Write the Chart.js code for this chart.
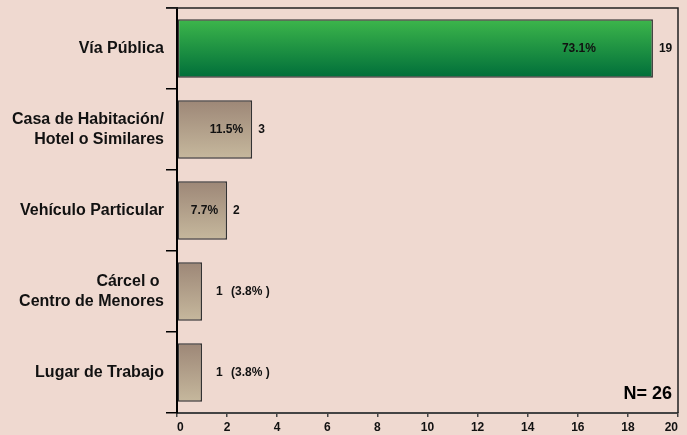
<!DOCTYPE html>
<html>
<head>
<meta charset="utf-8">
<script src="https://cdn.jsdelivr.net/npm/chart.js@4/dist/chart.umd.min.js"></script>
<style>
  html, body { margin: 0; padding: 0; background: #efd9d0; }
  #wrap { width: 687px; height: 435px; }
</style>
</head>
<body>
<div id="wrap"><canvas id="lugarChart"></canvas></div>
<script>
// datos
const categorias = [
  'Vía Pública',
  ['Casa de Habitación/', 'Hotel o Similares'],
  'Vehículo Particular',
  ['Cárcel o ', 'Centro de Menores'],
  'Lugar de Trabajo'
];
const casos = [19, 3, 2, 1, 1];
const porcentajes = ['73.1%', '11.5%', '7.7%', '3.8%', '3.8%'];
const ticksX = [0, 2, 4, 6, 8, 10, 12, 14, 16, 18, 20];
const totalN = 26;

const FONT = 'Arial, "Liberation Sans", sans-serif';
const BAR_PCT = 0.72;

function degradado(context) {
  const chart = context.chart;
  const area = chart.chartArea;
  if (!area) return '#a89080';
  const y = chart.scales.y;
  const centro = y.getPixelForValue(context.dataIndex);
  const mitad = (area.bottom - area.top) / categorias.length * BAR_PCT / 2;
  const g = chart.ctx.createLinearGradient(0, centro - mitad, 0, centro + mitad);
  if (context.dataIndex === 0) {
    g.addColorStop(0, '#3db64b');
    g.addColorStop(1, '#006e3a');
  } else {
    g.addColorStop(0, '#9d8777');
    g.addColorStop(1, '#c6b89d');
  }
  return g;
}

// etiquetas de valor, marco superior/derecho y N
const etiquetas = {
  id: 'etiquetas',
  afterDatasetsDraw(chart) {
    const ctx = chart.ctx;
    const area = chart.chartArea;
    const meta = chart.getDatasetMeta(0);
    ctx.save();
    ctx.fillStyle = '#111';
    ctx.font = 'bold 12px ' + FONT;
    ctx.textBaseline = 'middle';
    meta.data.forEach((bar, i) => {
      const ancho = bar.x - bar.base;
      if (casos[i] > 1) {
        ctx.textAlign = 'right';
        const dentro = ancho > 200 ? 57 : 9;
        ctx.fillText(porcentajes[i], bar.x - dentro, bar.y);
        ctx.textAlign = 'left';
        ctx.fillText(String(casos[i]), bar.x + 6, bar.y);
      } else {
        ctx.textAlign = 'left';
        ctx.fillText(String(casos[i]), bar.x + 14, bar.y);
        ctx.fillText('(' + porcentajes[i] + ' )', bar.x + 29, bar.y);
      }
    });
    // marco
    ctx.strokeStyle = '#222';
    ctx.lineWidth = 1.5;
    ctx.beginPath();
    ctx.moveTo(area.left - 11, area.top);
    ctx.lineTo(area.right, area.top);
    ctx.lineTo(area.right, area.bottom);
    ctx.stroke();
    // N
    ctx.font = 'bold 18px ' + FONT;
    ctx.textAlign = 'right';
    ctx.fillStyle = '#000';
    ctx.fillText('N= ' + totalN, area.right - 6, area.bottom - 19);
    ctx.restore();
  }
};

new Chart(document.getElementById('lugarChart'), {
  type: 'bar',
  data: {
    labels: categorias,
    datasets: [{
      data: casos,
      backgroundColor: degradado,
      borderColor: '#333',
      borderWidth: 1.5,
      borderSkipped: false,
      categoryPercentage: 1,
      barPercentage: BAR_PCT
    }]
  },
  options: {
    indexAxis: 'y',
    responsive: true,
    maintainAspectRatio: false,
    animation: false,
    layout: { padding: { top: 8, right: 9, left: 0, bottom: 0 } },
    plugins: {
      legend: { display: false },
      tooltip: { enabled: false }
    },
    scales: {
      x: {
        min: 0,
        max: 20,
        afterBuildTicks(scale) {
          scale.ticks = ticksX.map(v => ({ value: v }));
        },
        afterFit(scale) {
          scale.height = 22;
          scale.paddingLeft = 0;
          scale.paddingRight = 0;
        },
        grid: { drawOnChartArea: false, tickLength: 4, color: '#444', lineWidth: 1.5 },
        border: { color: '#444', width: 2 },
        ticks: {
          color: '#111',
          padding: 3,
          align: 'inner',
          font: { family: FONT, size: 12, weight: 'bold' }
        }
      },
      y: {
        afterFit(scale) {
          scale.width = 177;
          scale.paddingTop = 0;
          scale.paddingBottom = 0;
        },
        grid: { drawOnChartArea: false, tickLength: 11, color: '#000', lineWidth: 1.5, offset: true },
        border: { color: '#000', width: 2 },
        ticks: {
          color: '#111',
          padding: 2,
          font: { family: FONT, size: 16, weight: 'bold', lineHeight: 1.2 }
        }
      }
    }
  },
  plugins: [etiquetas]
});
</script>
</body>
</html>
